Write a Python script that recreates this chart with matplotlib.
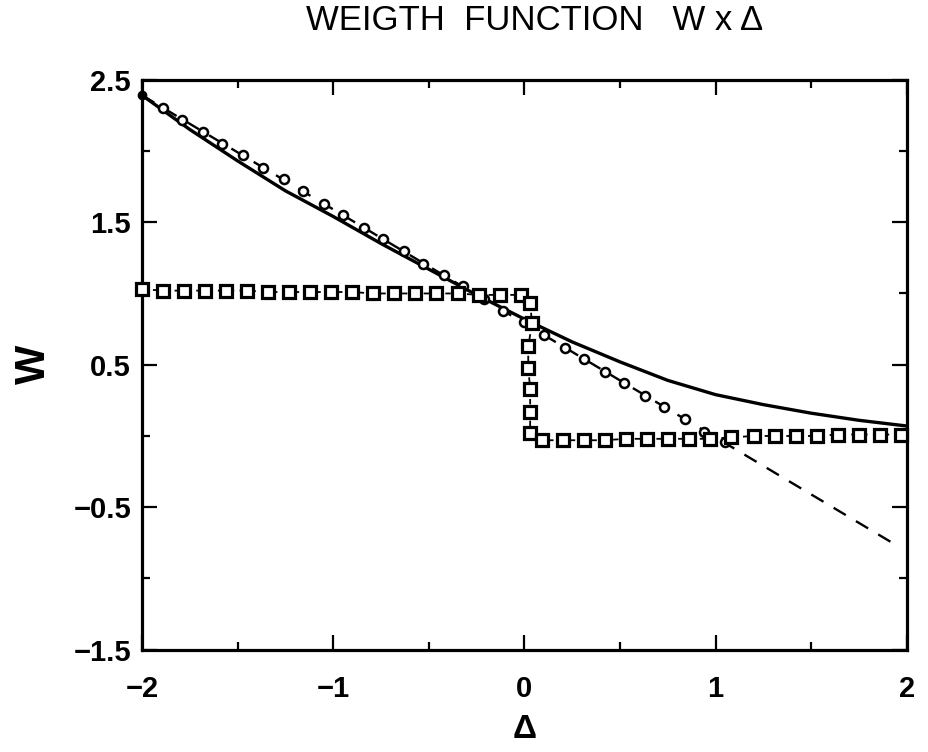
import matplotlib
matplotlib.use("Agg")
import matplotlib.pyplot as plt
from matplotlib.ticker import FixedLocator

# ---- data ----
solid_x = [-2.0, -1.75, -1.5, -1.25, -1.0, -0.75, -0.5, -0.25, 0.0,
           0.25, 0.5, 0.75, 1.0, 1.25, 1.5, 1.75, 2.0]
solid_y = [2.39, 2.15, 1.93, 1.72, 1.54, 1.35, 1.17, 0.99, 0.82,
           0.66, 0.52, 0.39, 0.29, 0.22, 0.16, 0.11, 0.07]

dash_x = [-2.0, 1.95]
dash_y = [2.39, -0.77]

circle_x = [-1.89, -1.79, -1.68, -1.58, -1.47, -1.37, -1.26, -1.16, -1.05, -0.95,
            -0.84, -0.74, -0.63, -0.53, -0.42, -0.32, -0.21, -0.11, 0.0, 0.10,
            0.21, 0.31, 0.42, 0.52, 0.63, 0.73, 0.84, 0.94, 1.05]
circle_y = [2.30, 2.22, 2.13, 2.05, 1.97, 1.88, 1.80, 1.72, 1.63, 1.55,
            1.46, 1.38, 1.30, 1.21, 1.13, 1.05, 0.96, 0.88, 0.80, 0.71,
            0.62, 0.54, 0.45, 0.37, 0.28, 0.20, 0.12, 0.03, -0.04]

square_x = [-2.0, -1.89, -1.78, -1.67, -1.56, -1.45, -1.34, -1.23, -1.12, -1.01,
            -0.90, -0.79, -0.68, -0.57, -0.46, -0.35, -0.24, -0.13, -0.02,
            0.03, 0.04, 0.02, 0.02, 0.03, 0.03, 0.03,
            0.09, 0.20, 0.31, 0.42, 0.53, 0.64, 0.75, 0.86, 0.97, 1.08,
            1.20, 1.31, 1.42, 1.53, 1.64, 1.75, 1.86, 1.97]
square_y = [1.03, 1.02, 1.02, 1.02, 1.02, 1.02, 1.01, 1.01, 1.01, 1.01,
            1.01, 1.00, 1.00, 1.00, 1.00, 1.00, 0.99, 0.99, 0.99,
            0.93, 0.79, 0.63, 0.48, 0.33, 0.17, 0.02,
            -0.03, -0.03, -0.03, -0.03, -0.02, -0.02, -0.02, -0.02, -0.02, -0.01,
            0.0, 0.0, 0.0, 0.0, 0.01, 0.01, 0.01, 0.01]

start_x = [-2.0]
start_y = [2.39]

x_major = [-2, -1, 0, 1, 2]
x_minor = [-1.5, -0.5, 0.5, 1.5]
y_major = [-1.5, -0.5, 0.5, 1.5, 2.5]
y_minor = [-1.0, 0.0, 1.0, 2.0]

title = "WEIGTH  FUNCTION   W x \u0394"
xlabel = "\u0394"
ylabel = "W"

# ---- figure ----
plt.rcParams['font.family'] = ['Liberation Sans', 'DejaVu Sans']
fig = plt.figure(figsize=(9.29, 7.52), dpi=100)
ax = fig.add_axes([0.153, 0.136, 0.823, 0.758])

ax.plot(solid_x, solid_y, color='black', lw=2.4, solid_capstyle='round', zorder=3)
ax.plot(dash_x, dash_y, color='black', lw=1.7, linestyle=(0, (6, 5)), zorder=2)
ax.plot(circle_x, circle_y, linestyle='none', marker='o', ms=6.5,
        mfc='white', mec='black', mew=1.8, zorder=4)
ax.plot(square_x, square_y, color='black', lw=1.3, linestyle=(0, (3, 3)),
        marker='s', ms=9, mfc='white', mec='black', mew=2.3, zorder=5,
        clip_on=False)
ax.plot(start_x, start_y, linestyle='none', marker='o', ms=6, color='black',
        zorder=6, clip_on=False)

ax.set_xlim(-2, 2)
ax.set_ylim(-1.5, 2.5)
ax.xaxis.set_major_locator(FixedLocator(x_major))
ax.xaxis.set_minor_locator(FixedLocator(x_minor))
ax.yaxis.set_major_locator(FixedLocator(y_major))
ax.yaxis.set_minor_locator(FixedLocator(y_minor))
ax.set_xticklabels([("\u2212" + str(abs(v))) if v < 0 else str(v) for v in x_major],
                   fontsize=21, fontweight='bold')
ax.set_yticklabels([("\u2212" + str(abs(v))) if v < 0 else str(v) for v in y_major],
                   fontsize=21, fontweight='bold')

ax.tick_params(which='both', direction='in', top=True, right=True, width=1.6,
               colors='black')
ax.tick_params(which='major', length=11)
ax.tick_params(which='minor', length=6)
ax.tick_params(axis='x', which='major', pad=18)
ax.tick_params(axis='y', which='major', pad=8)
for s in ax.spines.values():
    s.set_linewidth(2.3)

fig.text(535 / 929, 1 - 20 / 752, title, fontsize=25,
         ha='center', va='center')
ax.set_xlabel(xlabel, fontsize=24, fontweight='bold', labelpad=8)
ax.set_ylabel(ylabel, fontsize=30, fontweight='bold', labelpad=14)

fig.savefig("out.png", dpi=100)
